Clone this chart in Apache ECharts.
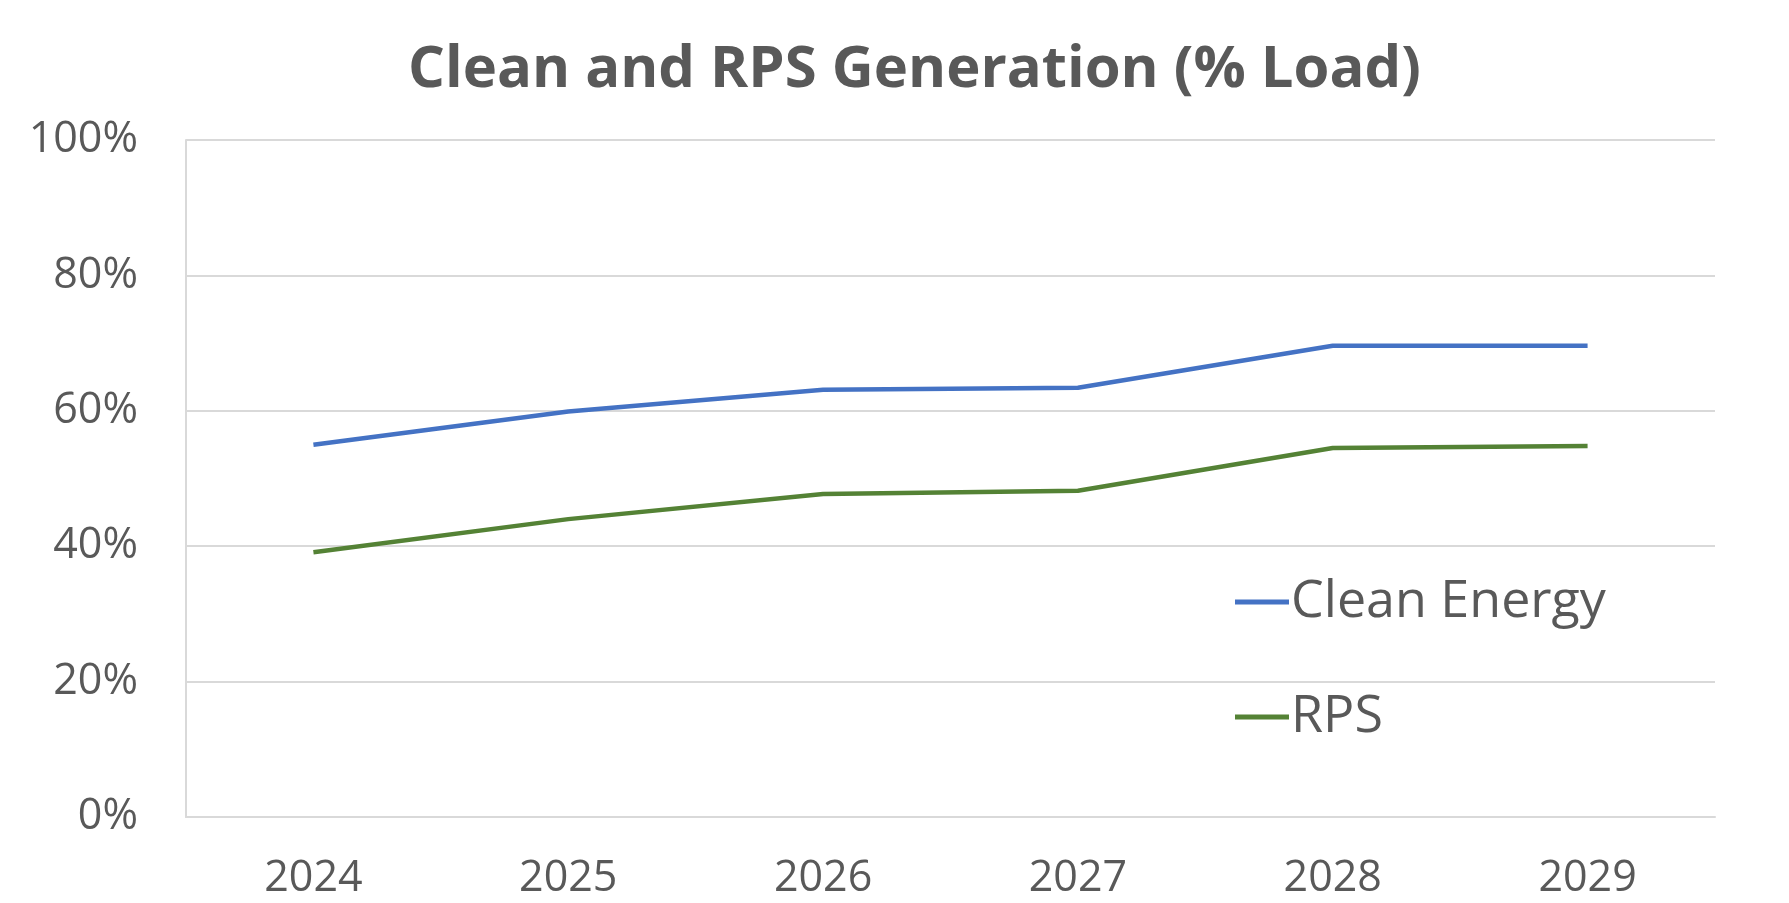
<!DOCTYPE html>
<html>
<head>
<meta charset="utf-8">
<script src="https://cdn.jsdelivr.net/npm/echarts@6/dist/echarts.min.js"></script>
<style>
  html, body { margin: 0; padding: 0; background: #fff; }
  #chart { width: 1789px; height: 903px; }
</style>
</head>
<body>
<div id="chart"></div>
<script>
  // data
  var years = ['2024', '2025', '2026', '2027', '2028', '2029']
  var cleanEnergy = [55.0, 59.9, 63.1, 63.4, 69.6, 69.6]
  var rps = [39.1, 44.0, 47.7, 48.2, 54.5, 54.8]
  var yTicks = [0, 20, 40, 60, 80, 100]

  var textGrey = '#595959'
  var fontName = 'Open Sans'

  var chart = echarts.init(document.getElementById('chart'))
  chart.setOption({
    animation: false,
    backgroundColor: '#fff',
    title: {
      text: 'Clean and RPS Generation (% Load)',
      left: 403,
      top: 36,
      textStyle: {
        fontFamily: fontName,
        fontSize: 58,
        fontWeight: 'bold',
        color: textGrey
      }
    },
    legend: {
      orient: 'vertical',
      left: 1230,
      top: 567,
      itemGap: 55,
      itemWidth: 54,
      itemHeight: 5,
      icon: 'rect',
      data: ['Clean Energy', 'RPS'],
      textStyle: {
        fontFamily: fontName,
        fontSize: 52,
        lineHeight: 60,
        color: textGrey,
        padding: [0, 0, 0, -3]
      }
    },
    grid: {
      left: 186,
      right: 1789 - 1715,
      top: 140,
      bottom: 903 - 817,
      containLabel: false
    },
    xAxis: {
      type: 'category',
      data: years,
      boundaryGap: true,
      axisTick: { show: false },
      axisLine: { show: true, lineStyle: { color: '#d9d9d9', width: 2 } },
      axisLabel: {
        margin: 40,
        fontFamily: fontName,
        fontSize: 43,
        color: textGrey
      }
    },
    yAxis: {
      type: 'value',
      min: yTicks[0],
      max: yTicks[yTicks.length - 1],
      interval: 20,
      axisLine: { show: true, lineStyle: { color: '#d9d9d9', width: 2 } },
      axisTick: { show: false },
      splitLine: { lineStyle: { color: '#d9d9d9', width: 2 } },
      axisLabel: {
        margin: 48,
        fontFamily: fontName,
        fontSize: 43,
        color: textGrey,
        formatter: '{value}%'
      }
    },
    series: [
      {
        name: 'Clean Energy',
        type: 'line',
        data: cleanEnergy,
        showSymbol: false,
        symbol: 'none',
        lineStyle: { color: '#4472c4', width: 4.5 },
        itemStyle: { color: '#4472c4' }
      },
      {
        name: 'RPS',
        type: 'line',
        data: rps,
        showSymbol: false,
        symbol: 'none',
        lineStyle: { color: '#548235', width: 4.5 },
        itemStyle: { color: '#548235' }
      }
    ]
  })
</script>
</body>
</html>
